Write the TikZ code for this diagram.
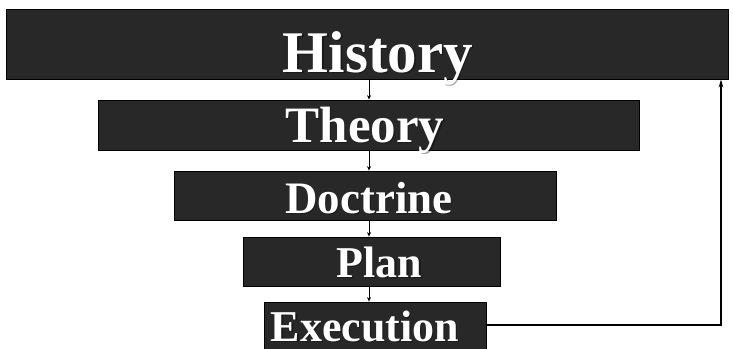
\documentclass[tikz,border=0pt]{standalone}
\usepackage{fontspec}
\setmainfont{Liberation Serif}
\usetikzlibrary{arrows.meta}
\definecolor{boxgray}{RGB}{40,40,40}
\begin{document}
\begin{tikzpicture}[x=1pt,y=-1pt,
    stage/.style={draw=black, line width=0.8pt, fill=boxgray, inner sep=0pt},
    lbl/.style={text=white, anchor=base, inner sep=0pt},
    lblshadow/.style={text=black, text opacity=0.35, anchor=base, inner sep=0pt},
    down/.style={line width=0.7pt, -{Stealth[length=4.5pt,width=4pt]}},
    back/.style={line width=1.6pt, -{Stealth[length=8pt,width=4.5pt]}}]
  \useasboundingbox (0,0) rectangle (733,348);
  % the stages, top to bottom
  \node [stage, minimum width=722, minimum height=70] (hist) at (367,44) {};
  \node [stage, minimum width=541, minimum height=50] (theo) at (368.5,125) {};
  \node [stage, minimum width=382, minimum height=49] (doct) at (365,195.5) {};
  \node [stage, minimum width=257, minimum height=49] (plan) at (371.5,261.5) {};
  \node [stage, minimum width=222, minimum height=50] (exec) at (375,327) {};
  % labels
  \foreach \x / \y / \s / \t in {378/72/59/History, 365/142/51/Theory,
		369/213/45/Doctrine, 379.5/277/44/Plan, 365/341/44/Execution} {
    \node [lblshadow, font={\fontsize{\s}{\s}\selectfont\bfseries}] (sh-\t) at (\x+1.2,\y+1.2) {\t};
    \node [lbl, font={\fontsize{\s}{\s}\selectfont\bfseries}] (lbl-\t) at (\x,\y) {\t};
  }
  % arrows between the stages
  \coordinate (ax) at (369,0);
  \draw [down] (hist.south -| ax) -- (theo.north -| ax);
  \draw [down] (theo.south -| ax) -- (doct.north -| ax);
  \draw [down] (doct.south -| ax) -- (plan.north -| ax);
  \draw [down] (plan.south -| ax) -- (exec.north -| ax);
  % feedback to history
  \coordinate (fb) at (721,0);
  \draw [back] ([yshift=2pt]exec.east) -- ([yshift=2pt]exec.east -| fb) -- (hist.south -| fb);
\end{tikzpicture}
\end{document}
